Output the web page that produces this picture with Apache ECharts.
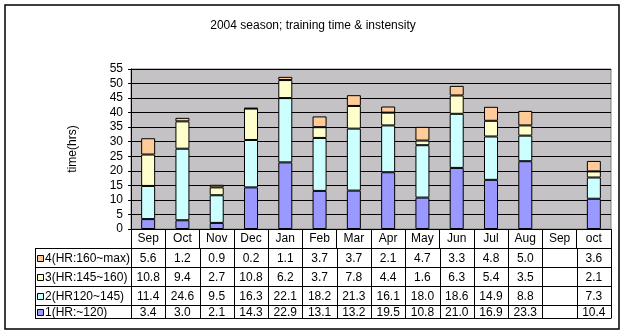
<!DOCTYPE html>
<html><head><meta charset="utf-8">
<script src="https://cdn.jsdelivr.net/npm/echarts@6/dist/echarts.min.js"></script>
<style>html,body{margin:0;padding:0;background:#fff}#c{width:626px;height:336px}</style>
</head><body><div id="c"></div>
<script>
var title = '2004 season; training time & instensity';
var categories = ['Sep','Oct','Nov','Dec','Jan','Feb','Mar','Apr','May','Jun','Jul','Aug','Sep','oct'];
var seriesNames = ['1(HR:~120)','2(HR120~145)','3(HR:145~160)','4(HR:160~max)'];
var s1 = [3.4, 3.0, 2.1, 14.3, 22.9, 13.1, 13.2, 19.5, 10.8, 21.0, 16.9, 23.3, null, 10.4];
var s2 = [11.4, 24.6, 9.5, 16.3, 22.1, 18.2, 21.3, 16.1, 18.0, 18.6, 14.9, 8.8, null, 7.3];
var s3 = [10.8, 9.4, 2.7, 10.8, 6.2, 3.7, 7.8, 4.4, 1.6, 6.3, 5.4, 3.5, null, 2.1];
var s4 = [5.6, 1.2, 0.9, 0.2, 1.1, 3.7, 3.7, 2.1, 4.7, 3.3, 4.8, 5.0, null, 3.6];
var colors = ['#9999FF','#CCFFFF','#FFFFCC','#FFCC99'];
var yTicks = {min:0, max:55, interval:5};

var FONT = '"Liberation Sans", Arial, sans-serif';
var chart = echarts.init(document.getElementById('c'), null, {renderer:'canvas'});
var data = [s1, s2, s3, s4];
var series = data.map(function(d, i){
  return {name: seriesNames[i], type:'bar', stack:'t', data:d, barWidth:14,
    itemStyle:{color:colors[i], borderColor:'#000', borderWidth:1}, animation:false};
});
var GL = 131, GR = 611, GT = 69, GB = 229;
chart.setOption({
  backgroundColor:'#fff',
  animation:false,
  textStyle:{fontFamily:FONT},
  title:{text:title, left:'center', top:15, textStyle:{fontSize:12, fontWeight:'normal', color:'#000', fontFamily:FONT}},
  grid:{left:GL, right:626-GR, top:GT, height:GB-GT, show:true, backgroundColor:'#C4C2C4', borderColor:'#808080', borderWidth:1},
  xAxis:{type:'category', data:categories, boundaryGap:true,
    axisLine:{lineStyle:{color:'#000', width:1}},
    axisTick:{show:true, interval:0, length:19, lineStyle:{color:'#000'}},
    axisLabel:{interval:0, margin:4, fontSize:12, color:'#000', fontFamily:FONT}},
  yAxis:{type:'value', min:yTicks.min, max:yTicks.max, interval:yTicks.interval,
    name:'time(hrs)', nameLocation:'middle', nameGap:52, nameRotate:90,
    nameTextStyle:{fontSize:12, color:'#000', fontFamily:FONT},
    axisLine:{show:true, lineStyle:{color:'#000'}},
    axisTick:{show:true, length:3, lineStyle:{color:'#000'}},
    axisLabel:{fontSize:12, color:'#000', margin:8, fontFamily:FONT},
    splitLine:{lineStyle:{color:'#000', width:1}}},
  series:series
});

// data table
var rows = [3,2,1,0]; // top to bottom: series 4..1
var rowY = [248, 267, 286, 305, 318];
var TL = 35;
var g = [];
function line(x1,y1,x2,y2){ g.push({type:'line', shape:{x1:x1,y1:y1,x2:x2,y2:y2}, style:{stroke:'#000', lineWidth:1}, silent:true}); }
var n = categories.length;
var cw = (GR-GL)/n;
for (var r=0; r<rowY.length; r++) line(TL, rowY[r]+0.5, GR+0.5, rowY[r]+0.5);
line(TL+0.5, rowY[0], TL+0.5, rowY[4]);
for (var k=0; k<=n; k++){ var x=Math.round(GL+k*cw)+0.5; line(x, rowY[0], x, rowY[4]); }
rows.forEach(function(si, r){
  var yc = (rowY[r]+rowY[r+1])/2 + 1;
  g.push({type:'rect', shape:{x:37.5, y:Math.round(yc)-3.5, width:6, height:6}, style:{fill:colors[si], stroke:'#000', lineWidth:1}});
  g.push({type:'text', x:45, y:yc, style:{text:seriesNames[si].replace(/^(\d)/, '$1'), font:'12px '+FONT, fill:'#000', textVerticalAlign:'middle', textAlign:'left'}});
  data[si].forEach(function(v, i){
    if (v === null) return;
    var xc = chart.convertToPixel({xAxisIndex:0}, i);
    g.push({type:'text', x:xc, y:yc, style:{text:v.toFixed(1), font:'12px '+FONT, fill:'#000', textAlign:'center', textVerticalAlign:'middle'}});
  });
});
// outer border
g.push({type:'rect', shape:{x:5, y:5, width:614, height:324}, style:{fill:null, stroke:'#000', lineWidth:1.5}, silent:true});
chart.setOption({graphic:g});
</script></body></html>
